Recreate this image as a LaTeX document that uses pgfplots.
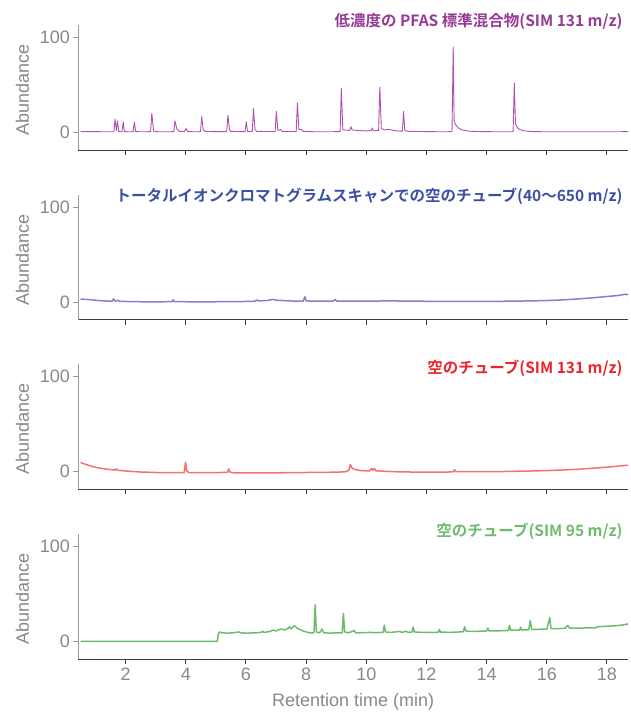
\documentclass[border=0pt]{standalone}
\usepackage{pgfplots}
\pgfplotsset{compat=1.18}
\usepackage{fontspec}
\setmainfont{Liberation Sans}
\newfontfamily\cjk{Noto Sans CJK JP}[BoldFont={Noto Sans CJK JP Bold}]
\definecolor{xdark}{HTML}{3C3C3C}
\definecolor{ygray}{HTML}{9A9A9A}
\definecolor{labelgray}{HTML}{85888D}
\definecolor{ttlpurple}{HTML}{963A96}
\definecolor{linpurple}{HTML}{B050B0}
\definecolor{ttlblue}{HTML}{3B4FA3}
\definecolor{linblue}{HTML}{7E82D0}
\definecolor{ttlred}{HTML}{E8252B}
\definecolor{linred}{HTML}{F27272}
\definecolor{ttlgreen}{HTML}{6DBB6D}
\definecolor{lingreen}{HTML}{6CBC6C}
\pgfplotsset{
  panel/.style={
    scale only axis, width=549.6pt, height=125pt,
    xmin=0.43, xmax=18.7, ymin=-18.6, ymax=113,
    axis x line*=bottom, axis y line*=left,
    x axis line style={draw=xdark, line width=1pt, -},
    y axis line style={draw=ygray, line width=1pt, -},
    xtick={2,4,...,18}, ytick={0,100},
    tick align=outside, major tick length=5pt,
    x tick style={draw=xdark, line width=1pt},
    y tick style={draw=ygray, line width=1pt},
    /pgf/number format/assume math mode=true,
    tick label style={font=\fontsize{18}{20}\selectfont, text=labelgray},
    ylabel={Abundance},
    ylabel style={at={(axis description cs:-0.102,0.48)}, anchor=center, font=\fontsize{18}{20}\selectfont, text=labelgray},
    clip=false,
    every axis plot/.append style={line join=round},
  },
}
\tikzset{ttl/.style={anchor=base east, xshift=-2pt, font=\cjk\bfseries\fontsize{15.5}{17}\selectfont}}
\begin{document}
\begin{tikzpicture}
\useasboundingbox (-78.4pt,-563pt) rectangle (551.6pt,150pt);
% Panel 1
\begin{axis}[panel, at={(0pt,0pt)}, anchor=south west, xticklabels={}]
\addplot[linpurple, line width=0.9pt] coordinates {
(0.5,0.8)(1.0,0.7)(1.55,0.6)(1.61,0.7)(1.65,14)(1.69,1.5)(1.73,12)(1.77,1)(1.82,0.6)(1.88,0.7)(1.92,11)(1.96,0.8)(2.1,0.6)(2.25,0.7)(2.29,11)(2.33,0.8)(2.5,0.6)(2.83,0.7)(2.87,20)(2.93,1.5)(3.0,0.7)(3.3,0.6)(3.6,0.7)(3.64,12)(3.7,4)(3.78,1)(3.95,0.8)(4.01,4)(4.06,0.8)(4.3,0.6)(4.49,0.7)(4.53,16.5)(4.58,2.5)(4.64,1)(5.0,0.7)(5.36,0.7)(5.4,18)(5.45,3)(5.5,1)(5.97,0.7)(6.01,11)(6.05,1)(6.21,0.8)(6.25,25)(6.3,3)(6.36,1)(6.97,0.8)(7.01,22)(7.06,2)(7.15,3)(7.2,1)(7.67,0.8)(7.71,31)(7.76,3)(7.85,3)(7.9,1)(8.3,0.6)(8.8,0.6)(9.13,0.8)(9.17,46)(9.22,3)(9.3,2.5)(9.45,2)(9.49,6)(9.53,2.5)(9.7,2)(10.0,1.5)(10.17,2)(10.2,4.5)(10.24,1.5)(10.41,2)(10.45,47.5)(10.5,4)(10.6,2.5)(10.73,3)(10.85,2.5)(11.0,1.5)(11.2,1.2)(11.24,22)(11.28,2)(11.4,1)(12.0,0.8)(12.5,0.6)(12.85,0.7)(12.89,90)(12.92,12)(12.97,8)(13.05,5)(13.15,3)(13.3,1.8)(13.5,1)(14.0,0.7)(14.5,0.6)(14.88,0.6)(14.92,52)(14.96,9)(15.02,5)(15.1,3)(15.25,1.5)(15.5,0.8)(16,0.6)(17,0.6)(18,0.6)(18.7,0.7)
};
\node[ttl, text=ttlpurple] at (axis cs:18.7,111.4) {低濃度の PFAS 標準混合物(SIM 131 m/z)};
\end{axis}
% Panel 2
\begin{axis}[panel, at={(0pt,-169.7pt)}, anchor=south west, xticklabels={}]
\addplot[linblue, line width=1.5pt] coordinates {
(0.5,3.2)(0.8,2.5)(1.1,1.6)(1.4,1.0)(1.55,0.8)(1.6,3.4)(1.65,1.0)(1.75,1.8)(1.8,0.8)(2.2,0.4)(2.8,0.2)(3.3,0.3)(3.55,0.5)(3.58,2.4)(3.62,0.5)(4.0,0.3)(4.5,0.2)(5.0,0.3)(5.5,0.4)(6.0,0.6)(6.3,0.9)(6.36,2.2)(6.42,1.2)(6.7,1.6)(6.9,2.8)(7.0,2.0)(7.3,1.4)(7.6,1.0)(7.9,0.9)(7.96,5.5)(8.0,1.2)(8.3,0.9)(8.9,0.9)(8.96,2.8)(9.02,1.0)(9.5,0.9)(10,1.0)(10.5,1.1)(11,1.1)(11.5,1.0)(12,0.8)(12.5,0.7)(13,0.6)(13.5,0.6)(14,0.7)(14.5,0.8)(15,1.0)(15.5,1.2)(16,1.6)(16.5,2.2)(17,3.2)(17.5,4.4)(18,5.8)(18.4,7.0)(18.6,8.2)(18.7,7.8)
};
\node[ttl, text=ttlblue] at (axis cs:18.7,105.8) {トータルイオンクロマトグラムスキャンでの空のチューブ(40〜650 m/z)};
\end{axis}
% Panel 3
\begin{axis}[panel, at={(0pt,-339.4pt)}, anchor=south west, xticklabels={}]
\addplot[linred, line width=1.5pt] coordinates {
(0.5,9.7)(0.7,7.5)(0.9,5.5)(1.1,4)(1.3,3)(1.5,2.2)(1.65,1.8)(1.69,3)(1.74,1.6)(2.0,0.8)(2.5,-0.3)(3.0,-0.8)(3.5,-1)(3.95,-1)(3.99,10)(4.03,1)(4.1,-0.8)(4.5,-1)(5.0,-1)(5.38,-0.6)(5.43,3)(5.47,-0.5)(5.6,-1.1)(6,-1.2)(6.5,-1.2)(7,-1.1)(7.5,-1)(8,-0.8)(8.5,-0.6)(9.0,-0.5)(9.3,0)(9.42,1.5)(9.47,7.6)(9.52,4)(9.6,2.5)(9.8,1.3)(10.1,0.8)(10.18,3.4)(10.22,1.5)(10.27,3.4)(10.32,1)(10.6,0.5)(11,0)(11.5,-0.3)(12,-0.5)(12.5,-0.4)(12.88,-0.2)(12.93,2)(12.98,0)(13.5,0)(14,0)(14.5,0.2)(15,0.5)(15.5,0.8)(16,1.2)(16.5,1.8)(17,2.6)(17.5,3.6)(18,4.8)(18.4,6)(18.7,6.9)
};
\node[ttl, text=ttlred] at (axis cs:18.7,103.7) {空のチューブ(SIM 131 m/z)};
\end{axis}
% Panel 4
\begin{axis}[panel, at={(0pt,-509.1pt)}, anchor=south west,
  xlabel={Retention time (min)},
  xlabel style={at={(axis description cs:0.4997,0)}, anchor=center, yshift=-43pt, font=\fontsize{18}{20}\selectfont, text=labelgray}]
\addplot[lingreen, line width=1.5pt] coordinates {
(0.5,0)(5.05,0)(5.08,8)(5.12,10)(5.2,9)(5.4,8.8)(5.6,9.2)(5.75,10)(5.85,9)(6.0,8.8)(6.3,9)(6.5,9.5)(6.55,10.8)(6.6,9.5)(6.8,10.5)(6.9,12)(7.0,11)(7.1,12.5)(7.2,13)(7.3,12)(7.4,14)(7.45,15.5)(7.5,13)(7.6,16.7)(7.7,14)(7.8,12.5)(7.9,11)(8.0,10)(8.15,9)(8.26,9)(8.3,38.5)(8.34,10)(8.45,9)(8.53,13)(8.58,9)(8.8,8.8)(9.0,9)(9.2,9)(9.24,29.5)(9.28,10)(9.4,9)(9.6,11.5)(9.65,9)(9.9,9.2)(10.1,9.5)(10.3,9.3)(10.56,9.5)(10.6,17)(10.64,10)(10.8,9.5)(11.1,10.5)(11.2,9.5)(11.3,10.8)(11.4,9.6)(11.52,10)(11.56,15)(11.6,10)(11.8,9.6)(12.0,9.5)(12.2,9.4)(12.4,9.8)(12.43,12.5)(12.47,9.8)(12.8,9.6)(13.0,9.8)(13.23,10.3)(13.27,15.6)(13.31,11)(13.5,10.5)(13.8,10.8)(14.0,11)(14.04,14)(14.08,11)(14.4,11.2)(14.72,11.5)(14.76,16.7)(14.8,11.8)(15.1,12)(15.13,15)(15.17,12)(15.4,12.3)(15.45,21.9)(15.5,12.5)(15.7,12.8)(16.0,13)(16.1,25)(16.14,13.5)(16.4,13.5)(16.6,13.8)(16.7,16.7)(16.76,14)(17.0,14)(17.3,14.2)(17.6,14.2)(17.7,15.5)(17.9,15.8)(18.2,16.3)(18.5,17.2)(18.7,18.4)
};
\node[ttl, text=ttlgreen] at (axis cs:18.7,111) {空のチューブ(SIM 95 m/z)};
\end{axis}
\end{tikzpicture}
\end{document}
